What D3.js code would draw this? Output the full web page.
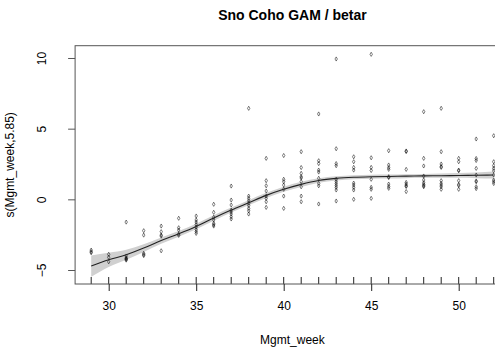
<!DOCTYPE html>
<html><head><meta charset="utf-8">
<script src="https://cdn.jsdelivr.net/npm/d3@7/dist/d3.min.js"></script>
<style>body{margin:0;background:#fff}svg{display:block;font-family:"Liberation Sans",Arial,sans-serif}</style>
</head><body><svg id="c" width="495" height="349"></svg>
<script>
const weeks = [29,30,31,32,33,34,35,36,37,38,39,40,41,42,43,44,45,46,47,48,49,50,51,52];
const fitValues = [-4.72,-4.28,-3.92,-3.45,-2.92,-2.44,-1.92,-1.32,-0.76,-0.24,0.28,0.71,1.06,1.33,1.48,1.56,1.60,1.62,1.64,1.66,1.67,1.69,1.70,1.72];
const seValues = [0.75,0.5,0.35,0.27,0.22,0.2,0.2,0.2,0.18,0.18,0.18,0.18,0.18,0.16,0.15,0.14,0.14,0.14,0.14,0.14,0.15,0.17,0.2,0.25];
const residuals = [
  [-3.59,-3.71,-3.78],
  [-3.89,-4.10,-4.42],
  [-1.61,-4.01,-4.15,-4.20,-4.25,-4.30],
  [-2.22,-2.53,-3.82,-3.91,-3.98],
  [-1.89,-2.29,-2.53,-2.60,-3.64],
  [-1.34,-2.01,-2.17,-2.46,-2.55],
  [-1.18,-1.46,-1.61,-1.78,-1.96,-2.14,-2.28,-2.41],
  [-0.35,-0.92,-1.27,-1.46,-1.70,-1.80,-1.89],
  [0.94,-0.05,-0.40,-0.76,-0.90,-1.04,-1.23,-1.39],
  [6.44,0.23,0.07,-0.10,-0.28,-0.44,-0.64,-0.81,-1.04],
  [2.90,1.32,0.96,0.59,0.23,0.07,-0.17,-0.57],
  [3.10,1.42,1.25,1.01,0.71,0.23,-0.64],
  [3.37,2.25,1.84,1.60,1.51,1.25,0.89,0.23,-0.17],
  [6.04,2.73,2.53,2.07,1.93,1.49,1.13,0.96,-0.33],
  [9.93,3.58,2.53,2.38,1.42,1.26,1.12,0.98,0.84,0.66,-0.12],
  [3.01,2.66,2.26,2.07,1.15,1.01,0.85,0.66,0.00],
  [10.26,2.94,2.26,2.04,1.42,0.85,0.71,0.07],
  [3.44,2.43,2.24,2.12,1.60,1.54,1.08,0.91,0.78],
  [3.42,3.38,2.12,1.20,1.08,0.96,0.91,0.55],
  [6.20,2.90,2.36,1.65,1.37,1.17,1.05,0.96,0.89],
  [6.44,3.37,2.50,2.32,2.26,1.32,1.13,1.01,0.89,0.71],
  [2.90,2.66,2.07,2.02,1.32,1.05,0.98,0.71],
  [4.27,2.89,2.75,2.19,1.72,1.30,1.24,0.89,0.76],
  [4.50,2.66,2.38,2.19,2.02,1.72,1.37,1.25,1.12]
];
const xTicks = [30,35,40,45,50];
const yTicks = [-5,0,5,10];
const titleText = "Sno Coho GAM / betar";
const xLabel = "Mgmt_week";
const yLabel = "s(Mgmt_week,5.85)";

const svg = d3.select("#c");
const L = 75.1, R = 509.8, T = 45.7, B = 284;
const x = d3.scaleLinear().domain([28.08, 52.92]).range([L, R]);
const y = d3.scaleLinear().domain([-5.99, 10.87]).range([B, T]);

svg.append("defs").append("clipPath").attr("id","pc")
  .append("rect").attr("x",L).attr("y",T).attr("width",R-L).attr("height",B-T);

const g = svg.append("g").attr("clip-path","url(#pc)");
const band = weeks.map((w,i)=>({w, lo: fitValues[i]-seValues[i], hi: fitValues[i]+seValues[i]}));
g.append("path").datum(band)
  .attr("d", d3.area().x(d=>x(d.w)).y0(d=>y(d.lo)).y1(d=>y(d.hi)).curve(d3.curveMonotoneX))
  .attr("fill","#d0d0d0");

const pts = [];
weeks.forEach((w,i)=>residuals[i].forEach(v=>pts.push({w,v})));
const sym = d3.symbol().type(d3.symbolDiamond).size(5);
g.selectAll("path.pt").data(pts).join("path").attr("class","pt")
  .attr("transform", d=>`translate(${x(d.w)},${y(d.v)})`)
  .attr("d", sym).attr("fill","none").attr("stroke","#000").attr("stroke-opacity",0.5).attr("stroke-width",1);

g.append("path").datum(weeks.map((w,i)=>({w,v:fitValues[i]})))
  .attr("d", d3.line().x(d=>x(d.w)).y(d=>y(d.v)).curve(d3.curveMonotoneX))
  .attr("fill","none").attr("stroke","#222").attr("stroke-width",1.1);

// rug
svg.selectAll("line.rug").data(weeks).join("line").attr("class","rug")
  .attr("x1",d=>x(d)).attr("x2",d=>x(d)).attr("y1",B).attr("y2",B-7)
  .attr("stroke","#222").attr("stroke-width",1);

// frame
svg.append("rect").attr("x",L).attr("y",T).attr("width",R-L).attr("height",B-T)
  .attr("fill","none").attr("stroke","#555").attr("stroke-width",1);

// x axis
const xa = svg.append("g").attr("transform",`translate(0,${B})`)
  .call(d3.axisBottom(x).tickValues(xTicks).tickSize(7).tickPadding(10).tickFormat(d3.format("d")));
xa.select(".domain").remove();
xa.selectAll("line").attr("stroke","#222");
xa.selectAll("text").attr("font-size",12).attr("fill","#000");

// y axis
const ya = svg.append("g").attr("transform",`translate(${L},0)`)
  .call(d3.axisLeft(y).tickValues(yTicks).tickSize(7).tickFormat(d3.format("d")));
ya.select(".domain").remove();
ya.selectAll("line").attr("stroke","#555");
ya.selectAll("text").attr("font-size",12).attr("fill","#000")
  .attr("text-anchor","middle").attr("dy",0).attr("x",0)
  .attr("transform","translate(-29,0) rotate(-90)");

svg.append("text").attr("x",(L+R)/2).attr("y",20).attr("text-anchor","middle")
  .attr("font-size",14).attr("font-weight","bold").text(titleText);
svg.append("text").attr("x",(L+R)/2).attr("y",344).attr("text-anchor","middle")
  .attr("font-size",12).text(xLabel);
svg.append("text").attr("transform",`translate(14,${(T+B)/2}) rotate(-90)`).attr("text-anchor","middle")
  .attr("font-size",12).text(yLabel);
</script></body></html>
